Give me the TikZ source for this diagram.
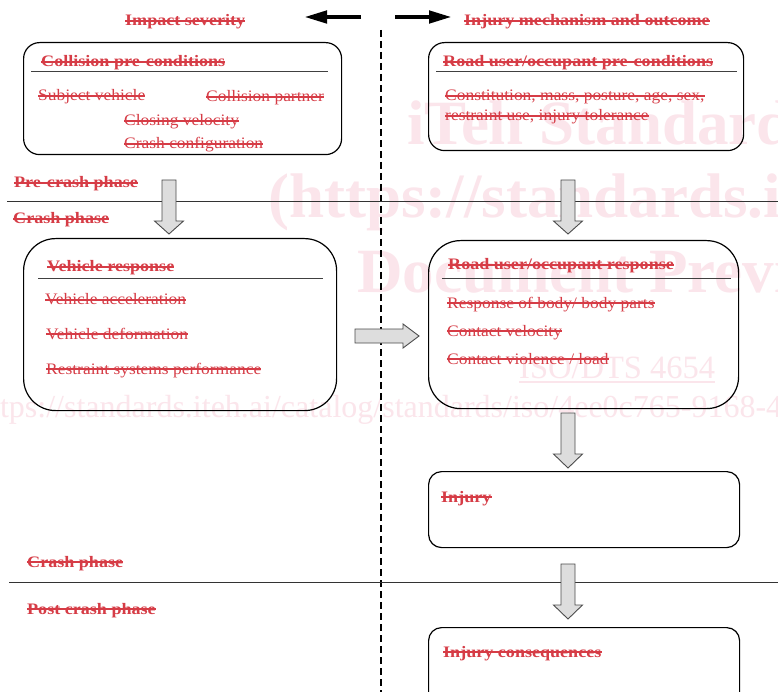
\documentclass[tikz,border=0pt]{standalone}
\usepackage{fontspec}
\setmainfont{Liberation Serif}[FakeStretch=1.09, BoldFeatures={FakeStretch=1.13}]
\newfontfamily\wmfont{Liberation Serif}
\usetikzlibrary{arrows.meta}
\definecolor{myred}{RGB}{214,60,70}
\definecolor{wmpink}{RGB}{251,229,235}
\definecolor{blkgray}{RGB}{221,221,221}
\newcommand\blkdn[4]{%
  \draw[blk] (#1-7,#2) -- (#1+7,#2) -- (#1+7,#3) -- (#1+14.5,#3) -- (#1,#4) -- (#1-14.5,#3) -- (#1-7,#3) -- cycle;}
\tikzset{
  lbl/.style={anchor=base west, inner sep=0pt, text=myred, font=\fontsize{16}{19}\selectfont},
  ttl/.style={lbl, font=\fontsize{16}{19}\selectfont\bfseries},
  box/.style={draw=black, line width=1.2pt, anchor=north west, inner sep=0pt},
  rulel/.style={draw=black!75, line width=0.9pt},
  phase/.style={draw=black!80, line width=1pt},
  blk/.style={fill=blkgray, draw=black!70, line width=0.9pt, line join=miter},
  wm/.style={anchor=base west, inner sep=0pt, text=wmpink},
  toparrow/.style={line width=4.5pt, -{Triangle[length=23pt,width=12pt]}},
  strk/.style={draw=myred, line width=1.1pt},
}
\begin{document}
\begin{tikzpicture}[x=1pt,y=-1pt]
\clip (0,0) rectangle (778,692);
\fill[white] (0,0) rectangle (778,692);
% watermark
\node[wm, font=\wmfont\fontsize{63}{63}\selectfont\bfseries] (w1) at (407,145) {iTeh Standards};
\node[wm, font=\wmfont\fontsize{63}{63}\selectfont\bfseries] (w2) at (268,218) {(https://standards.iteh.ai)};
\node[wm, font=\wmfont\fontsize{63}{63}\selectfont\bfseries] (w3) at (357,293) {Document Preview};
\node[wm, font=\wmfont\fontsize{32.5}{33}\selectfont] (w4) at (519,378) {ISO/DTS 4654};
\draw[wmpink, line width=1.5pt] (519,382) -- (715,382);
\node[wm, font=\wmfont\fontsize{32}{33}\selectfont] (w5) at (-25,417) {https://standards.iteh.ai/catalog/standards/iso/4ee0c765-9168-4};
% dashed divider
\coordinate (dtop) at (381,30);
\coordinate (dbot) at (381,692);
\draw[line width=1.3pt, dash pattern=on 7pt off 4pt] (dtop) -- (dbot);
% top arrows
\coordinate (la1) at (361,17); \coordinate (la2) at (304,17);
\coordinate (ra1) at (395,17); \coordinate (ra2) at (452,17);
\draw[toparrow] (la1) -- (la2);
\draw[toparrow] (ra1) -- (ra2);
\node[ttl] (h1) at (125,26) {Impact severity};
\node[ttl] (h2) at (464,26) {Injury mechanism and outcome};
% phase lines
\coordinate (p1a) at (7,202); \coordinate (p1b) at (778,202);
\coordinate (p2a) at (9,582); \coordinate (p2b) at (778,582);
\draw[phase] (p1a) -- (p1b);
\draw[phase] (p2a) -- (p2b);
\node[ttl] (ph1) at (14,188) {Pre-crash phase};
\node[ttl] (ph2) at (13,224) {Crash phase};
\node[ttl] (ph3) at (27,567) {Crash phase};
\node[ttl] (ph4) at (27,614) {Post crash phase};
% box 1
\node[box, rounded corners=16pt, minimum width=318pt, minimum height=112pt] (b1) at (23,42) {};
\draw[rulel] (31,71) -- (328,71);
\node[ttl] (b1t) at (41,67) {Collision pre-conditions};
\node[lbl] (b1a) at (38,101) {Subject vehicle};
\node[lbl] (b1b) at (206,102) {Collision partner};
\node[lbl] (b1c) at (124,126) {Closing velocity};
\node[lbl] (b1d) at (124,149) {Crash configuration};
% box 2
\node[box, rounded corners=16pt, minimum width=315pt, minimum height=108pt] (b2) at (428,42) {};
\draw[rulel] (436,71) -- (737,71);
\node[ttl] (b2t) at (443,67) {Road user/occupant pre-conditions};
\node[lbl] (b2a) at (445,101) {Constitution, mass, posture, age, sex,};
\node[lbl] (b2b) at (445,121) {restraint use, injury tolerance};
% box 3
\node[box, rounded corners=32pt, minimum width=313pt, minimum height=172pt] (b3) at (23,238) {};
\draw[rulel] (38,278) -- (323,278);
\node[ttl] (b3t) at (47,272) {Vehicle response};
\node[lbl] (b3a) at (45,305) {Vehicle acceleration};
\node[lbl] (b3b) at (46,339) {Vehicle deformation};
\node[lbl] (b3c) at (46,374) {Restraint systems performance};
% box 4
\node[box, rounded corners=32pt, minimum width=310pt, minimum height=168pt] (b4) at (428,240) {};
\draw[rulel] (442,278) -- (731,278);
\node[ttl] (b4t) at (448,270) {Road user/occupant response};
\node[lbl] (b4a) at (447,308) {Response of body/ body parts};
\node[lbl] (b4b) at (447,336) {Contact velocity};
\node[lbl] (b4c) at (447,364) {Contact violence / load};
% box 5
\node[box, rounded corners=13pt, minimum width=311pt, minimum height=76pt] (b5) at (428,471) {};
\node[ttl] (b5t) at (441,502) {Injury};
% box 6
\node[box, rounded corners=13pt, minimum width=311pt, minimum height=80pt] (b6) at (428,627) {};
\node[ttl] (b6t) at (443,657) {Injury consequences};
% strike-through lines
\foreach \n in {h1,h2,ph1,ph2,ph3,ph4,b1t,b1a,b1b,b1c,b1d,b2t,b2a,b2b,b3t,b3a,b3b,b3c,b4t,b4a,b4b,b4c,b5t,b6t}
  \draw[strk] ([yshift=5pt]\n.base west) -- ([yshift=5pt]\n.base east);
% block arrows
\blkdn{169}{180}{221}{234}
\blkdn{568}{180}{221}{234}
\blkdn{568}{413}{454}{468}
\blkdn{568}{564}{605}{619}
\draw[blk] (355,329) -- (403,329) -- (403,324) -- (419,336) -- (403,348) -- (403,343) -- (355,343) -- cycle;
\end{tikzpicture}
\end{document}
